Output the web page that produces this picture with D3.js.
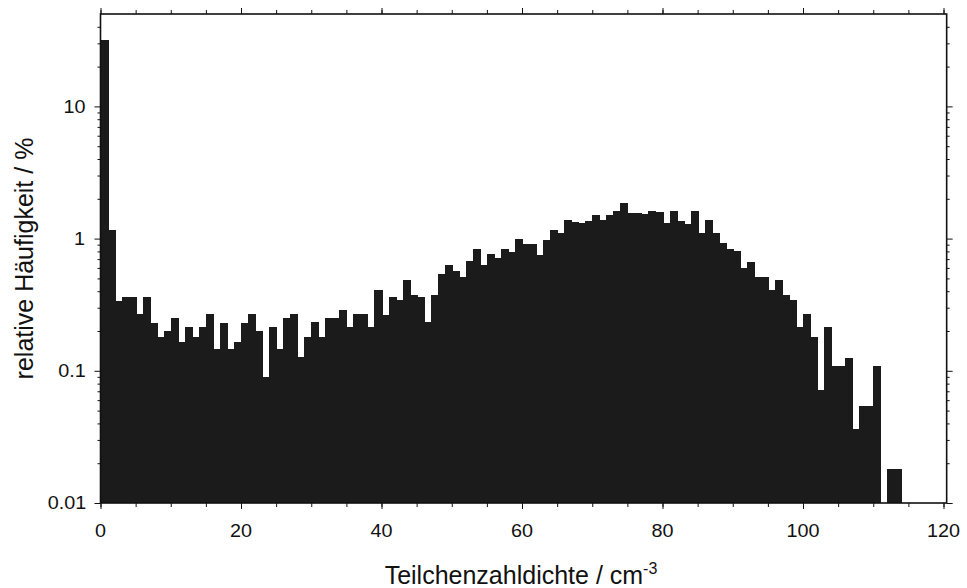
<!DOCTYPE html>
<html>
<head>
<meta charset="utf-8">
<script src="https://cdn.jsdelivr.net/npm/d3@7/dist/d3.min.js"></script>
<style>
  html, body { margin: 0; padding: 0; background: #fff; }
  svg { display: block; }
  text { font-family: "Liberation Sans", Arial, Helvetica, sans-serif; fill: #111; }
  .tl { transform-box: fill-box; transform-origin: center; transform: scaleX(1.1); }
</style>
</head>
<body>
<svg id="chart" width="967" height="588"></svg>
<script>
// bin width 1 cm^-3, bins start at 0
const binWidth = 1;
const frequency = [
  31.6, 1.16, 0.34, 0.36, 0.36, 0.27, 0.36, 0.23, 0.18, 0.20,
  0.25, 0.165, 0.215, 0.18, 0.215, 0.27, 0.145, 0.23, 0.145, 0.165,
  0.23, 0.27, 0.20, 0.09, 0.215, 0.145, 0.25, 0.27, 0.128, 0.18,
  0.233, 0.18, 0.252, 0.252, 0.288, 0.214, 0.268, 0.268, 0.214, 0.412,
  0.265, 0.361, 0.342, 0.485, 0.376, 0.362, 0.233, 0.376, 0.536, 0.627,
  0.57, 0.514, 0.675, 0.83, 0.63, 0.77, 0.71, 0.83, 0.79, 1.00,
  0.91, 0.91, 0.75, 0.97, 1.17, 1.10, 1.38, 1.33, 1.31, 1.36,
  1.50, 1.39, 1.50, 1.62, 1.86, 1.55, 1.56, 1.53, 1.63, 1.59,
  1.32, 1.63, 1.35, 1.29, 1.62, 1.10, 1.38, 1.10, 0.92, 0.84,
  0.81, 0.60, 0.67, 0.51, 0.51, 0.41, 0.485, 0.373, 0.342, 0.215,
  0.27, 0.181, 0.071, 0.215, 0.108, 0.108, 0.126, 0.036, 0.054, 0.054,
  0.108, 0, 0.018, 0.018
];
const binStart = d3.range(frequency.length).map(i => i * binWidth);

const xMajorTicks = [0, 20, 40, 60, 80, 100, 120];
const xMinorTicks = d3.range(0, 121, 5);
const yMajorTicks = [0.01, 0.1, 1, 10];
const yTickLabels = ["0.01", "0.1", "1", "10"];
const yMinorTicks = [0.02,0.03,0.04,0.05,0.06,0.07,0.08,0.09,
                     0.2,0.3,0.4,0.5,0.6,0.7,0.8,0.9,
                     2,3,4,5,6,7,8,9,20,30,40];
const xTitle = "Teilchenzahldichte / cm";
const xTitleSup = "-3";
const yTitle = "relative Häufigkeit / %";

const T = 14, B = 503;
const x = d3.scaleLinear().domain([0, 120]).range([100.5, 943.5]);
const y = d3.scaleLog().domain([0.01, 50]).range([B, T]);
const L = x(0), R = x(120.45);

const svg = d3.select("#chart");

// bars
svg.append("g")
  .attr("shape-rendering", "crispEdges")
  .selectAll("rect")
  .data(binStart.map((s, i) => ({ s, v: frequency[i] })).filter(d => d.v > 0))
  .join("rect")
  .attr("x", d => x(d.s))
  .attr("width", d => x(d.s + binWidth) - x(d.s) + 1)
  .attr("y", d => y(d.v))
  .attr("height", d => B - y(d.v))
  .attr("fill", "#1b1b1b");

// axes (ticks outward, no labels)
function styleAxis(g) {
  g.select(".domain").remove();
  g.selectAll("line").attr("stroke", "#111").attr("stroke-width", 1);
  g.selectAll("text").remove();
}
svg.append("g").attr("transform", `translate(0,${B})`)
  .call(d3.axisBottom(x).tickValues(xMinorTicks).tickSize(4)).call(styleAxis);
svg.append("g").attr("transform", `translate(0,${B})`)
  .call(d3.axisBottom(x).tickValues(xMajorTicks).tickSize(6)).call(styleAxis);
svg.append("g").attr("transform", `translate(0,${T})`)
  .call(d3.axisTop(x).tickValues(xMinorTicks).tickSize(4)).call(styleAxis);
svg.append("g").attr("transform", `translate(0,${T})`)
  .call(d3.axisTop(x).tickValues(xMajorTicks).tickSize(6)).call(styleAxis);
svg.append("g").attr("transform", `translate(${L},0)`)
  .call(d3.axisLeft(y).tickValues(yMinorTicks).tickSize(3)).call(styleAxis);
svg.append("g").attr("transform", `translate(${L},0)`)
  .call(d3.axisLeft(y).tickValues(yMajorTicks).tickSize(6)).call(styleAxis);
svg.append("g").attr("transform", `translate(${R},0)`)
  .call(d3.axisRight(y).tickValues(yMinorTicks).tickSize(3)).call(styleAxis);
svg.append("g").attr("transform", `translate(${R},0)`)
  .call(d3.axisRight(y).tickValues(yMajorTicks).tickSize(6)).call(styleAxis);

// frame
svg.append("rect")
  .attr("x", L).attr("y", T).attr("width", R - L).attr("height", B - T)
  .attr("fill", "none").attr("stroke", "#111").attr("stroke-width", 1.6);

// tick labels
svg.append("g").selectAll("text").data(xMajorTicks).join("text")
  .attr("class", "tl")
  .attr("x", d => x(d)).attr("y", B + 34)
  .attr("text-anchor", "middle").attr("font-size", 18)
  .text(d => d);
svg.append("g").selectAll("text").data(yMajorTicks).join("text")
  .attr("class", "tl")
  .attr("x", L - 16).attr("y", d => y(d)).attr("dy", "0.36em")
  .attr("text-anchor", "end").attr("font-size", 18)
  .text((d, i) => yTickLabels[i]);

// axis titles
const xt = svg.append("text")
  .attr("x", 521).attr("y", 584)
  .attr("text-anchor", "middle").attr("font-size", 25);
xt.append("tspan").text(xTitle);
xt.append("tspan").attr("dy", -10).attr("font-size", 16).text(xTitleSup);

svg.append("text")
  .attr("transform", `translate(33,${(T + B) / 2}) rotate(-90)`)
  .attr("text-anchor", "middle").attr("font-size", 25)
  .text(yTitle);
</script>
</body>
</html>
